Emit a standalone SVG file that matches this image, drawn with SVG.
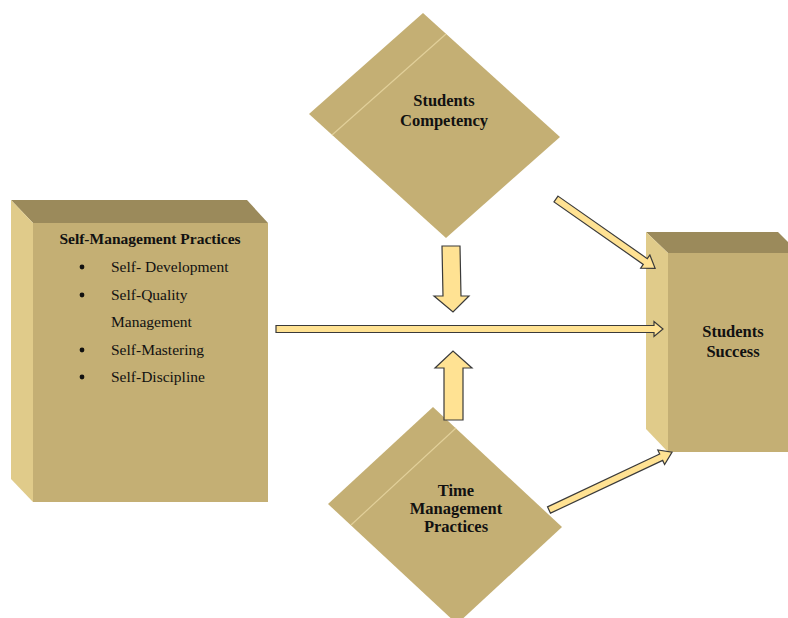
<svg xmlns="http://www.w3.org/2000/svg" width="788" height="618" viewBox="0 0 788 618">
<defs>
<style>
.front{fill:#C4AF74}
.top{fill:#9B8A5B}
.side{fill:#E0CB8A}
.fold{stroke:#E2D09A;stroke-width:1.2;fill:none}
.arrow{fill:#FFE293;stroke:#3a3a3a;stroke-width:1.2;stroke-linejoin:miter}
.lbl{font-family:"Liberation Serif","Times New Roman",serif;font-weight:bold;font-size:16.5px;fill:#111;text-anchor:middle}
.title{font-family:"Liberation Serif","Times New Roman",serif;font-weight:bold;font-size:15.5px;fill:#111;text-anchor:middle}
.item{font-family:"Liberation Serif","Times New Roman",serif;font-size:15.5px;fill:#111}
</style>
</defs>
<rect width="788" height="618" fill="#fff"/>

<g id="self-management">
<polygon class="top" points="11,200 247,200 268,223 33,223"/>
<polygon class="side" points="11,200 33,223 33,502 11,479"/>
<rect class="front" x="33" y="223" width="235" height="279"/>
<text class="title" x="150" y="244">Self-Management Practices</text>
<circle cx="82" cy="267" r="2.4" fill="#111"/>
<text class="item" x="111" y="272">Self- Development</text>
<circle cx="82" cy="295" r="2.4" fill="#111"/>
<text class="item" x="111" y="300">Self-Quality</text>
<text class="item" x="111" y="327">Management</text>
<circle cx="82" cy="350" r="2.4" fill="#111"/>
<text class="item" x="111" y="355">Self-Mastering</text>
<circle cx="82" cy="377" r="2.4" fill="#111"/>
<text class="item" x="111" y="382">Self-Discipline</text>
</g>

<g id="students-competency">
<polygon class="front" points="423,13 560,137 446,238 309,114"/>
<line class="fold" x1="446" y1="34" x2="332" y2="135"/>
<text class="lbl" x="444" y="106">Students</text>
<text class="lbl" x="444" y="126">Competency</text>
</g>

<g id="time-management">
<polygon class="front" points="433,407 562,527 457,624 328,504"/>
<line class="fold" x1="456" y1="428" x2="351" y2="525"/>
<text class="lbl" x="456" y="496">Time</text>
<text class="lbl" x="456" y="514">Management</text>
<text class="lbl" x="456" y="532">Practices</text>
</g>

<g id="students-success">
<polygon class="top" points="646,232 778,232 799,253 668,253"/>
<polygon class="side" points="646,232 668,253 668,452 646,429"/>
<rect class="front" x="668" y="253" width="130" height="199"/>
<text class="lbl" x="733" y="337">Students</text>
<text class="lbl" x="733" y="357">Success</text>
</g>

<g id="connectors">
<!-- horizontal: self-management to success -->
<polygon class="arrow" transform="translate(276,329)" points="0,-3.5 378,-3.5 378,-7.5 387,0 378,7.5 378,3.5 0,3.5"/>
<!-- competency to success -->
<polygon class="arrow" transform="translate(556,199) rotate(35)" points="0,-3.5 109,-3.5 109,-8 121,0 109,8 109,3.5 0,3.5"/>
<!-- time management to success -->
<polygon class="arrow" transform="translate(549,510) rotate(-25.2)" points="0,-3.5 124,-3.5 124,-8 136,0 124,8 124,3.5 0,3.5"/>
<!-- down arrow from competency -->
<polygon class="arrow" points="442,246 460,246 461,296 469,296 453,312 434,296 443,296"/>
<!-- up arrow from time management -->
<polygon class="arrow" points="444,420 463,420 463,368 472,368 453,351 435,368 444,368"/>
</g>
</svg>
